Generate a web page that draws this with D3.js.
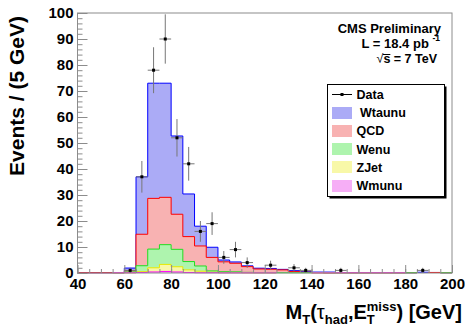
<!DOCTYPE html>
<html>
<head>
<meta charset="utf-8">
<script src="https://cdn.jsdelivr.net/npm/d3@7"></script>
<style>
  body { margin: 0; background: #fff; }
  svg { display: block; font-family: "Liberation Sans", Arial, sans-serif; font-weight: bold; }
  .legend text { white-space: pre; }
</style>
</head>
<body>
<svg id="chart" width="465" height="328"></svg>
<script>
// bin low edges (5 GeV bins)
const binLow = [40, 45, 50, 55, 60, 65, 70, 75, 80, 85, 90, 95, 100, 105, 110, 115,
                120, 125, 130, 135, 140, 145, 150, 155, 160, 165, 170, 175, 180, 185, 190, 195];
const binWidth = 5;

const dataCounts = [0, 0, 0, 0, 1, 37, 78, 90, 52, 42, 16, 19, 6, 9, 4, 0,
                    3, 0, 2, 1, 0, 0, 1, 0, 0, 0, 0, 0, 0, 1, 0, 0];

// MC components, stacked bottom -> top
const wmunu  = [0, 0, 0, 0.1, 0.1, 0.2, 0.4, 0.6, 0.4, 0.2, 0.1, 0.1, 0.05, 0.05, 0.05, 0.05,
                0.05, 0, 0, 0, 0.05, 0.05, 0.1, 0.1, 0.1, 0.1, 0.1, 0.1, 0, 0, 0, 0];
const zjet   = [0, 0, 0, 0, 0, 0.3, 1.6, 2.7, 2.0, 1.0, 0.6, 0.2, 0.1, 0.1, 0, 0,
                0, 0, 0, 0, 0, 0, 0, 0, 0, 0, 0, 0, 0, 0, 0, 0];
const wenu   = [0, 0, 0, 0, 0.3, 2.3, 7.2, 7.6, 6.7, 3.2, 2.0, 0.5, 0.35, 0.3, 0.2, 0.1,
                0.1, 0.1, 0.1, 0.1, 0.1, 0, 0, 0, 0, 0, 0, 0, 0.1, 0, 0, 0.1];
const qcd    = [0.1, 0.1, 0.1, 0, 0.5, 12.1, 19.5, 18.2, 13.5, 9.6, 7.7, 5.2, 3.8, 3.3, 2.2, 1.4,
                1.3, 1.1, 0.5, 0.2, 0, 0, 0, 0, 0, 0, 0, 0, 0, 0, 0.2, 0];
const wtaunu = [0, 0, 0, 0, 1.0, 22.1, 44.3, 43.9, 30.1, 16.4, 7.6, 3.9, 0.7, 0.5, 0.3, 0.3,
                0.3, 0.2, 0.3, 0.2, 0.2, 0.3, 0, 0, 0, 0, 0, 0, 0, 0.3, 0, 0];

const xTicks = [40, 60, 80, 100, 120, 140, 160, 180, 200];
const yTicks = [0, 10, 20, 30, 40, 50, 60, 70, 80, 90, 100];
const legendLabels = ['Data', ' Wtaunu', 'QCD', 'Wenu', 'ZJet', 'Wmunu'];

// light tints standing in for ROOT's dotted fill styles
const series = [
  { key: 'wmunu',  vals: wmunu,  fill: '#f6aef6', line: '#ff00ff' },
  { key: 'zjet',   vals: zjet,   fill: '#f8f8a8', line: '#e8e800' },
  { key: 'wenu',   vals: wenu,   fill: '#aef4ae', line: '#22dd22' },
  { key: 'qcd',    vals: qcd,    fill: '#f8b2b2', line: '#ff0000' },
  { key: 'wtaunu', vals: wtaunu, fill: '#ababf6', line: '#0000ff' }
];

const svg = d3.select('#chart');
const plot = { left: 77.5, right: 452, top: 13, bottom: 273 };

const x = d3.scaleLinear().domain([40, 200]).range([plot.left, plot.right]);
const y = d3.scaleLinear().domain([0, 100]).range([plot.bottom, plot.top]);

// cumulative sums
let running = binLow.map(() => 0);
series.forEach(s => {
  running = running.map((v, i) => v + s.vals[i]);
  s.cum = running.slice();
});

function outlinePath(vals) {
  let p = '';
  for (let i = 0; i < vals.length; i++) {
    if (vals[i] <= 0) continue;
    const x0 = x(binLow[i]), x1 = x(binLow[i] + binWidth), yy = y(vals[i]);
    const prev = i > 0 ? vals[i - 1] : 0;
    const next = i < vals.length - 1 ? vals[i + 1] : 0;
    if (prev <= 0) p += `M${x0},${y(0)}V${yy}`; else p += `V${yy}`;
    p += `H${x1}`;
    if (next <= 0) p += `V${y(0)}`;
  }
  return p;
}

const area = d3.area()
    .curve(d3.curveStepAfter)
    .x(d => x(d[0]))
    .y0(y(0))
    .y1(d => y(d[1]));

const stackG = svg.append('g').attr('class', 'stack');
series.slice().reverse().forEach(s => {
  const pts = binLow.map((b, i) => [b, s.cum[i]]);
  pts.push([200, s.cum[s.cum.length - 1]]);
  stackG.append('path')
      .attr('d', area(pts))
      .attr('fill', s.fill);
  stackG.append('path')
      .attr('d', outlinePath(s.cum))
      .attr('fill', 'none')
      .attr('stroke', s.line)
      .attr('stroke-width', 1);
});

// frame
svg.append('rect')
    .attr('x', plot.left).attr('y', plot.top)
    .attr('width', plot.right - plot.left).attr('height', plot.bottom - plot.top)
    .attr('fill', 'none').attr('stroke', '#8c8c8c');

// axes (ticks pointing inward, ROOT style)
svg.append('g').attr('class', 'y-axis')
    .attr('transform', `translate(${plot.left},0)`)
    .call(d3.axisLeft(y).tickValues(yTicks).tickSize(-10).tickPadding(4));
svg.append('g')
    .attr('transform', `translate(${plot.left},0)`)
    .call(d3.axisLeft(y).tickValues(d3.range(0, 100, 2)).tickSize(-5).tickFormat(''));
svg.append('g').attr('class', 'x-axis')
    .attr('transform', `translate(0,${plot.bottom})`)
    .call(d3.axisBottom(x).tickValues(xTicks).tickSize(-8).tickPadding(5));
svg.append('g')
    .attr('transform', `translate(0,${plot.bottom})`)
    .call(d3.axisBottom(x).tickValues(d3.range(40, 200, 5)).tickSize(-4).tickFormat(''));

svg.selectAll('.domain').remove();
svg.selectAll('.tick line').attr('stroke', '#8c8c8c');
svg.selectAll('.tick text')
    .attr('font-size', 15).attr('font-weight', 'bold')
    .attr('font-family', '"Liberation Sans", Arial, sans-serif')
    .attr('fill', '#000');

// data points with errors
const dataG = svg.append('g').attr('class', 'data');
binLow.forEach((b, i) => {
  const n = dataCounts[i];
  if (n <= 0) return;
  const cx = x(b + binWidth / 2), cy = y(n), err = Math.sqrt(n);
  dataG.append('line')
      .attr('x1', cx).attr('x2', cx)
      .attr('y1', y(n - err)).attr('y2', y(n + err))
      .attr('stroke', '#777').attr('stroke-width', 1);
  dataG.append('line')
      .attr('x1', x(b)).attr('x2', x(b + binWidth))
      .attr('y1', cy).attr('y2', cy)
      .attr('stroke', '#777').attr('stroke-width', 1);
  dataG.append('rect')
      .attr('x', cx - 1.5).attr('y', cy - 1.5)
      .attr('width', 3).attr('height', 3)
      .attr('fill', '#000');
});

// axis titles
svg.append('text')
    .attr('transform', 'translate(24,96) rotate(-90)')
    .attr('text-anchor', 'middle')
    .attr('font-size', 21)
    .text('Events / (5 GeV)');

function measure(str, size) {
  const t = svg.append('text').attr('font-size', size).text(str);
  const w = t.node().getComputedTextLength();
  t.remove();
  return w;
}
const big = 20, small = 13;
const wMiss = measure('miss', small), wT = measure('T', small);
const xt = svg.append('text')
    .attr('x', 462).attr('y', 319)
    .attr('text-anchor', 'end')
    .attr('font-size', big);
xt.append('tspan').text('M');
xt.append('tspan').attr('font-size', small).attr('dy', 5).text('T');
xt.append('tspan').attr('dy', -5).text('(');
xt.append('tspan').attr('font-weight', 'normal').text('τ');
xt.append('tspan').attr('font-size', small).attr('dy', 5).text('had');
xt.append('tspan').attr('dy', -5).text(',E');
xt.append('tspan').attr('font-size', small).attr('dy', -8).text('miss');
xt.append('tspan').attr('font-size', small).attr('dy', 13).attr('dx', -wMiss).text('T');
xt.append('tspan').attr('dy', -5).attr('dx', wMiss - wT).text(') [GeV]');

// top right labels
svg.append('text').attr('x', 441).attr('y', 33).attr('text-anchor', 'end')
    .attr('font-size', 13).text('CMS Preliminary');
const lumi = svg.append('text').attr('x', 440).attr('y', 47.5).attr('text-anchor', 'end')
    .attr('font-size', 13);
lumi.append('tspan').text('L = 18.4 pb ');
lumi.append('tspan').attr('font-size', 8.5).attr('dy', -7).text('-1');

const sq = svg.append('text').attr('x', 437).attr('y', 63).attr('text-anchor', 'end')
    .attr('font-size', 12.5);
sq.append('tspan').attr('font-weight', 'normal').text('√');
sq.append('tspan').text('s = 7 TeV');
// overline of the square root, placed over the "s"
const sBox = sq.node().getExtentOfChar(1);
svg.append('line')
    .attr('x1', sBox.x - 0.5).attr('x2', sBox.x + sBox.width)
    .attr('y1', 54.5).attr('y2', 54.5)
    .attr('stroke', '#000').attr('stroke-width', 1);

// legend
const lg = svg.append('g').attr('class', 'legend');
const box = { x: 327.5, y: 84.5, w: 117, h: 112 };
lg.append('rect').attr('x', box.x + 2).attr('y', box.y + 2)
    .attr('width', box.w).attr('height', box.h).attr('fill', '#000');
lg.append('rect').attr('x', box.x).attr('y', box.y)
    .attr('width', box.w).attr('height', box.h)
    .attr('fill', '#fff').attr('stroke', '#000');

const legendFill = [null, '#ababf6', '#f8b2b2', '#aef4ae', '#f8f8a8', '#f6aef6'];
legendLabels.forEach((lab, i) => {
  const cy = 94.5 + i * 18.2;
  if (i === 0) {
    lg.append('line').attr('x1', 332).attr('x2', 352).attr('y1', cy).attr('y2', cy)
        .attr('stroke', '#000');
    lg.append('rect').attr('x', 340.5).attr('y', cy - 1.5).attr('width', 3).attr('height', 3)
        .attr('fill', '#000');
  } else {
    lg.append('rect').attr('x', 332).attr('y', Math.round(cy - 6)).attr('width', 20).attr('height', 12)
        .attr('fill', legendFill[i]);
  }
  lg.append('text').attr('x', 356.5).attr('y', cy + 4.5)
      .attr('font-size', 12.5).text(lab);
});
</script>
</body>
</html>
